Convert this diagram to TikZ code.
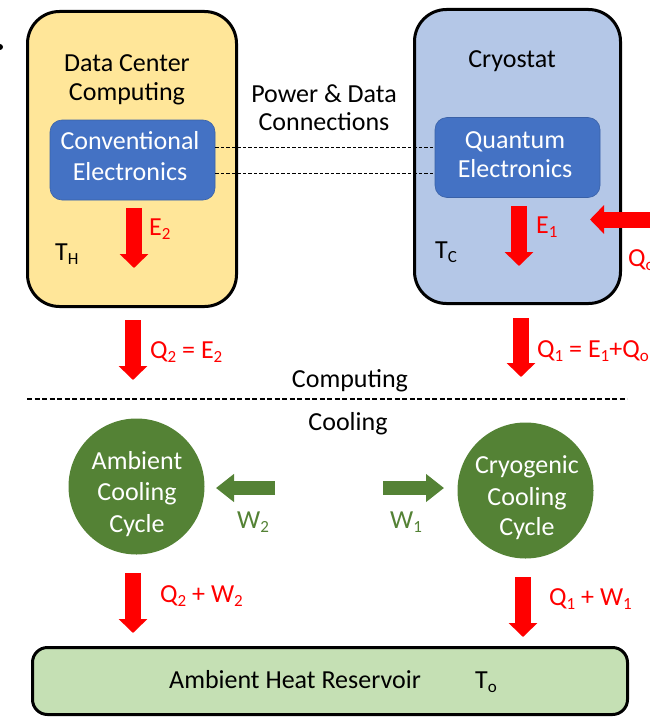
\documentclass[tikz,border=0pt]{standalone}
\usepackage{fontspec}
\setmainfont{Carlito}
\usetikzlibrary{arrows.meta}
\definecolor{yel}{HTML}{FFE699}
\definecolor{lblue}{HTML}{B4C7E7}
\definecolor{dblue}{HTML}{4472C4}
\definecolor{grn}{HTML}{548235}
\definecolor{lgrn}{HTML}{C5E0B4}
\definecolor{rd}{HTML}{FF0000}
\newcommand\mysub[1]{\raisebox{-4pt}{\fontsize{17}{17}\selectfont #1}}
\begin{document}
\begin{tikzpicture}[x=1pt,y=-1pt,
  bigbox/.style={draw=black, line width=3pt, rounded corners=32pt, inner sep=0pt},
  elbox/.style={fill=dblue, draw=dblue!85!black, line width=0.6pt, rounded corners=12pt, inner sep=0pt, minimum width=165pt, minimum height=80pt},
  cyc/.style={circle, fill=grn, inner sep=0pt, minimum size=136pt},
  txt/.style={inner sep=0pt, anchor=base, font=\fontsize{26}{30}\selectfont},
  ltxt/.style={txt, anchor=base west},
  redarr/.style={draw=rd, line width=16pt, -{Triangle[width=28pt,length=14pt]}},
  grnarr/.style={draw=grn, line width=14pt, -{Triangle[width=27pt,length=18pt]}}]
\useasboundingbox (0,0) rectangle (650,717);
% stray dot
\fill (0,47) circle (3pt);
% boxes
\node[bigbox, fill=yel, minimum width=209pt, minimum height=295pt] (dc) at (132,159) {};
\node[bigbox, fill=lblue, minimum width=206pt, minimum height=294pt] (cryo) at (517.5,156.5) {};
\node[elbox] (ce) at (132.5,160) {};
\node[elbox] (qe) at (517.5,157.5) {};
\node[bigbox, fill=lgrn, rounded corners=15pt, minimum width=595pt, minimum height=67pt] (res) at (330,681) {};
\node[cyc] (amb) at (136.5,486.5) {};
\node[cyc] (cry) at (525.5,490.5) {};
% texts in boxes
\node[txt] (t1) at (127,71) {Data Center};
\node[txt] (t2) at (127,100) {Computing};
\node[txt, text=white] (t3) at (130,149) {Conventional};
\node[txt, text=white] (t4) at (130,180) {Electronics};
\node[txt] (t5) at (512,67) {Cryostat};
\node[txt, text=white] (t6) at (515,148) {Quantum};
\node[txt, text=white] (t7) at (515,177) {Electronics};
\node[txt] (t8) at (324,102) {Power \& Data};
\node[txt] (t9) at (324,130) {Connections};
\node[ltxt] (th) at (55,260) {T\mysub{H}};
\node[ltxt] (tc) at (435,258) {T\mysub{C}};
% dashed connections
\coordinate (d1) at ([yshift=13pt]ce.east);
\coordinate (d2) at ([yshift=-13pt]ce.east);
\draw[line width=0.8pt, dash pattern=on 3.5pt off 2pt] (d1) -- (d1 -| qe.west);
\draw[line width=0.8pt, dash pattern=on 3.5pt off 2pt] (d2) -- (d2 -| qe.west);
% red arrows
\coordinate (e2a) at (134,208); \coordinate (e2b) at (134,268);
\draw[redarr] (e2a) -- (e2b);
\node[ltxt, text=rd] (le2) at (149,235) {E\mysub{2}};
\coordinate (e1a) at (519,206); \coordinate (e1b) at (519,266);
\draw[redarr] (e1a) -- (e1b);
\node[ltxt, text=rd] (le1) at (536,233) {E\mysub{1}};
\coordinate (qoa) at (660,219.5); \coordinate (qob) at (590,219.5);
\draw[redarr] (qoa) -- (qob);
\node[ltxt, text=rd] (lqo) at (628,266) {Q\mysub{o}};
\coordinate (q2a) at (133,320); \coordinate (q2b) at (133,380);
\draw[redarr] (q2a) -- (q2b);
\node[ltxt, text=rd] (lq2) at (150,358) {Q\mysub{2} = E\mysub{2}};
\coordinate (q1a) at (521,318); \coordinate (q1b) at (521,377);
\draw[redarr] (q1a) -- (q1b);
\node[ltxt, text=rd] (lq1) at (537,357) {Q\mysub{1} = E\mysub{1}+Q\mysub{o}};
% divider
\node[txt] (comp) at (350,387) {Computing};
\coordinate (dv1) at (27,399); \coordinate (dv2) at (627,399);
\draw[line width=1.2pt, dash pattern=on 5pt off 2.5pt] (dv1) -- (dv2);
\node[txt] (cool) at (348,430) {Cooling};
% cycles text
\node[txt, text=white] (a1) at (137,469) {Ambient};
\node[txt, text=white] (a2) at (137,500) {Cooling};
\node[txt, text=white] (a3) at (137,532) {Cycle};
\node[txt, text=white] (c1) at (527,473) {Cryogenic};
\node[txt, text=white] (c2) at (527,505) {Cooling};
\node[txt, text=white] (c3) at (527,535) {Cycle};
% green arrows
\coordinate (w2a) at (275,488); \coordinate (w2b) at (216,488);
\draw[grnarr] (w2a) -- (w2b);
\node[ltxt, text=grn] (lw2) at (237,528) {W\mysub{2}};
\coordinate (w1a) at (383,488); \coordinate (w1b) at (444,488);
\draw[grnarr] (w1a) -- (w1b);
\node[ltxt, text=grn] (lw1) at (390,528) {W\mysub{1}};
% bottom red arrows
\coordinate (b2a) at (133,573); \coordinate (b2b) at (133,633);
\draw[redarr] (b2a) -- (b2b);
\node[ltxt, text=rd] (lb2) at (160,602) {Q\mysub{2} + W\mysub{2}};
\coordinate (b1a) at (523,577); \coordinate (b1b) at (523,637);
\draw[redarr] (b1a) -- (b1b);
\node[ltxt, text=rd] (lb1) at (549,605) {Q\mysub{1} + W\mysub{1}};
% reservoir
\node[ltxt] (rt) at (169,688) {Ambient Heat Reservoir};
\node[ltxt] (to) at (475,688) {T\mysub{o}};
\end{tikzpicture}
\end{document}
